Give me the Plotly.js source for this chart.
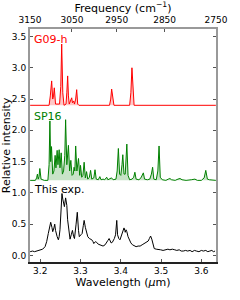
<!DOCTYPE html>
<html><head><meta charset="utf-8">
<script src="https://cdn.plot.ly/plotly-3.0.1.min.js"></script>
<style>html,body{margin:0;padding:0;background:#fff}#chart{width:240px;height:300px}</style>
</head><body><div id="chart"></div>
<script>
// Wavelength (um) values and intensities
const g09Wave = [3.175,3.222,3.225,3.2284,3.231,3.233,3.2349,3.238,3.248,3.251,3.2533,3.256,3.259,3.264,3.266,3.2681,3.270,3.272,3.2781,3.280,3.2830,3.285,3.288,3.2905,3.293,3.296,3.372,3.375,3.3773,3.380,3.383,3.422,3.425,3.4277,3.430,3.433,3.636];
const g09Int  = [2.40,2.40,2.55,2.79,2.50,2.55,2.68,2.42,2.42,2.70,3.38,2.60,2.40,2.42,2.60,2.87,2.55,2.42,2.52,2.44,2.47,2.42,2.50,2.65,2.42,2.40,2.40,2.50,2.66,2.48,2.40,2.40,2.60,3.00,2.60,2.40,2.40];

const sp16Wave = [3.175,3.188,3.191,3.193,3.195,3.197,3.199,3.202,3.210,3.219,3.222,3.224,3.226,3.228,3.231,3.234,3.237,3.239,3.242,3.244,3.247,3.249,3.252,3.255,3.258,3.261,3.263,3.266,3.270,3.273,3.276,3.279,3.282,3.284,3.286,3.288,3.291,3.295,3.298,3.300,3.303,3.306,3.309,3.312,3.315,3.318,3.322,3.325,3.328,3.333,3.336,3.339,3.344,3.348,3.351,3.356,3.360,3.365,3.368,3.373,3.377,3.381,3.388,3.391,3.394,3.397,3.400,3.403,3.405,3.408,3.411,3.415,3.418,3.422,3.428,3.432,3.435,3.438,3.445,3.450,3.456,3.459,3.466,3.472,3.476,3.479,3.482,3.488,3.492,3.495,3.498,3.503,3.512,3.518,3.522,3.526,3.535,3.542,3.547,3.552,3.562,3.575,3.584,3.590,3.600,3.607,3.611,3.615,3.620,3.636];
const sp16Int  = [1.20,1.20,1.24,1.30,1.22,1.26,1.39,1.22,1.20,1.20,1.45,2.15,1.50,1.74,1.30,1.35,1.60,1.40,1.68,1.45,1.69,1.40,1.64,1.30,1.35,1.60,2.17,1.45,1.76,1.35,1.52,1.28,1.30,1.41,1.35,1.75,1.35,1.55,1.28,1.44,1.25,1.28,1.49,1.24,1.34,1.22,1.25,1.36,1.22,1.24,1.37,1.22,1.21,1.26,1.21,1.22,1.21,1.25,1.21,1.22,1.24,1.21,1.22,1.35,1.71,1.30,1.28,1.45,1.61,1.30,1.30,1.78,1.28,1.21,1.22,1.25,1.33,1.22,1.21,1.24,1.32,1.22,1.21,1.22,1.30,1.41,1.22,1.21,1.35,1.75,1.25,1.21,1.20,1.22,1.23,1.21,1.20,1.22,1.23,1.21,1.20,1.21,1.22,1.20,1.20,1.24,1.36,1.22,1.21,1.20];

const expWave = [3.175,3.181,3.186,3.191,3.196,3.201,3.206,3.212,3.216,3.220,3.223,3.226,3.229,3.231,3.234,3.236,3.238,3.240,3.242,3.245,3.247,3.249,3.251,3.254,3.256,3.258,3.260,3.263,3.266,3.268,3.271,3.274,3.277,3.280,3.283,3.285,3.289,3.292,3.295,3.297,3.301,3.304,3.307,3.309,3.312,3.315,3.318,3.322,3.325,3.328,3.331,3.333,3.337,3.340,3.344,3.348,3.352,3.356,3.361,3.365,3.368,3.371,3.374,3.376,3.379,3.381,3.384,3.387,3.390,3.392,3.395,3.398,3.401,3.403,3.406,3.408,3.410,3.411,3.413,3.415,3.418,3.421,3.425,3.429,3.433,3.438,3.443,3.448,3.453,3.458,3.463,3.468,3.471,3.474,3.477,3.479,3.481,3.483,3.488,3.493,3.499,3.505,3.511,3.517,3.522,3.528,3.534,3.539,3.545,3.550,3.555,3.561,3.566,3.572,3.577,3.583,3.588,3.594,3.600,3.605,3.611,3.616,3.621,3.626,3.630,3.634];
const expInt  = [0.06,0.07,0.06,0.07,0.08,0.09,0.10,0.14,0.22,0.35,0.45,0.53,0.45,0.38,0.44,0.50,0.40,0.33,0.30,0.25,0.30,0.41,0.70,0.99,0.90,0.84,0.78,0.92,0.80,0.57,0.40,0.26,0.33,0.40,0.30,0.27,0.50,0.69,0.40,0.30,0.33,0.35,0.48,0.56,0.45,0.38,0.30,0.27,0.26,0.25,0.22,0.19,0.22,0.21,0.18,0.17,0.16,0.15,0.17,0.20,0.24,0.27,0.22,0.20,0.21,0.23,0.27,0.33,0.56,0.33,0.27,0.25,0.30,0.35,0.40,0.44,0.40,0.37,0.41,0.38,0.30,0.25,0.20,0.17,0.15,0.14,0.15,0.15,0.17,0.19,0.20,0.23,0.27,0.31,0.26,0.21,0.15,0.11,0.10,0.10,0.09,0.08,0.09,0.10,0.09,0.10,0.09,0.08,0.09,0.07,0.07,0.08,0.07,0.08,0.06,0.08,0.07,0.06,0.08,0.07,0.08,0.06,0.07,0.08,0.06,0.07];

const waveTicks = [3.2,3.3,3.4,3.5,3.6];
const freqTicks = [3150,3050,2950,2850,2750];
const yTicks = [0.0,0.5,1.0,1.5,2.0,2.5,3.0,3.5];
const seriesNames = ["G09-h","SP16","This exp."];

const xRange = [1e4/3150, 1e4/2750];
const font = "DejaVu Sans, sans-serif";

const traces = [
  {x: g09Wave, y: g09Int, type:'scatter', mode:'lines', fill:'toself', fillcolor:'rgba(255,0,0,0.22)', line:{color:'#ff0000', width:1}, xaxis:'x2', yaxis:'y', hoverinfo:'skip'},
  {x: sp16Wave, y: sp16Int, type:'scatter', mode:'lines', fill:'toself', fillcolor:'rgba(0,128,0,0.22)', line:{color:'#008000', width:1}, xaxis:'x', yaxis:'y', hoverinfo:'skip'},
  {x: expWave, y: expInt, type:'scatter', mode:'lines', line:{color:'#000000', width:1}, xaxis:'x', yaxis:'y', hoverinfo:'skip'}
];

const layout = {
  width:240, height:300,
  margin:{l:30, r:24, t:29, b:38},
  paper_bgcolor:'#fff', plot_bgcolor:'#fff',
  showlegend:false,
  font:{family:font, size:9, color:'#000'},
  xaxis:{range:xRange, tickvals:waveTicks, ticktext:waveTicks.map(v=>v.toFixed(1)),
    ticks:'inside', ticklen:3, tickcolor:'#555', showline:true, linecolor:'#222', linewidth:1.5,
    showgrid:false, zeroline:false, tickfont:{size:9},
    title:{text:'Wavelength (<i>μ</i>m)', font:{size:11}, standoff:2}},
  xaxis2:{range:xRange, overlaying:'x', side:'top', tickvals:freqTicks.map(f=>1e4/f), ticktext:freqTicks.map(String),
    ticks:'inside', ticklen:3, tickcolor:'#555', showline:true, linecolor:'#999', linewidth:2,
    showgrid:false, zeroline:false, tickfont:{size:9},
    title:{text:'Frequency (cm<sup>−1</sup>)', font:{size:11}, standoff:6}},
  yaxis:{range:[-0.105,3.62], tickvals:yTicks, ticktext:yTicks.map(v=>v.toFixed(1)),
    ticks:'inside', ticklen:3, tickcolor:'#555', showline:true, linecolor:'#999', linewidth:2, mirror:'ticks',
    showgrid:false, zeroline:false, tickfont:{size:9},
    title:{text:'Relative intensity', font:{size:11}, standoff:5}},
  annotations:[
    {text:seriesNames[0], xref:'paper', yref:'y', x:0.01, y:3.46, xanchor:'left', yanchor:'middle', showarrow:false, font:{size:11, color:'#ff0000'}},
    {text:seriesNames[1], xref:'paper', yref:'y', x:0.01, y:2.22, xanchor:'left', yanchor:'middle', showarrow:false, font:{size:11, color:'#008000'}},
    {text:seriesNames[2], xref:'paper', yref:'y', x:0.01, y:1.06, xanchor:'left', yanchor:'middle', showarrow:false, font:{size:11, color:'#000'}}
  ]
};

Plotly.newPlot('chart', traces, layout, {staticPlot:true, displayModeBar:false});
</script></body></html>
